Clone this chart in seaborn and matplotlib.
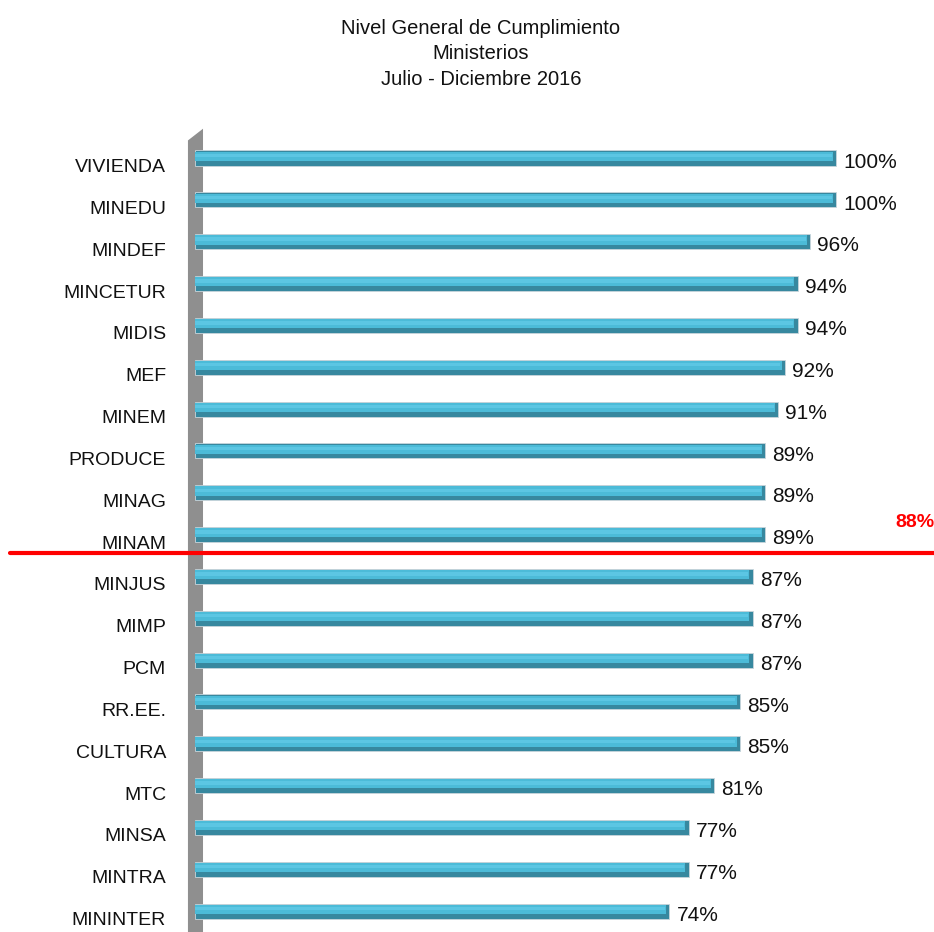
import matplotlib
matplotlib.use("Agg")
import matplotlib.pyplot as plt
import matplotlib.transforms as mtransforms
import seaborn as sns
import numpy as np
import pandas as pd

# Data
ministerios = ["VIVIENDA", "MINEDU", "MINDEF", "MINCETUR", "MIDIS", "MEF", "MINEM",
               "PRODUCE", "MINAG", "MINAM", "MINJUS", "MIMP", "PCM", "RR.EE.",
               "CULTURA", "MTC", "MINSA", "MINTRA", "MININTER"]
cumplimiento = [100, 100, 96, 94, 94, 92, 91, 89, 89, 89, 87, 87, 87, 85, 85, 81, 77, 77, 74]
umbral = 88
titulo = "Nivel General de Cumplimiento\nMinisterios\nJulio - Diciembre 2016"

df = pd.DataFrame({"ministerio": ministerios, "valor": cumplimiento})

sns.set_style("white")
plt.rcParams["font.family"] = ["Liberation Sans", "DejaVu Sans"]

fig = plt.figure(figsize=(9.34, 9.32), dpi=100)
W, H = 934, 932
ax_left, ax_top = 180, 125
ax = fig.add_axes([ax_left / W, 0, (W - ax_left) / W, (H - ax_top) / H])

px_per_unit = 6.41
x0_px = 195
ax.set_xlim(-(x0_px - ax_left) / px_per_unit, (W - x0_px) / px_per_unit)

# gray "wall" behind bars
ax.fill([-1.1, 1.25, 1.25, -1.1], [-0.42, -0.70, 18.6, 18.6], color="#8f8f8f",
        zorder=0, clip_on=False, lw=0)

# bars: dark base, main body, soft highlight
sns.barplot(data=df, y="ministerio", x="valor", orient="h", color="#37889f",
            width=0.36, saturation=1, ax=ax, zorder=2, edgecolor="#c9d6dc",
            linewidth=0.6)
ax.barh(np.arange(len(ministerios)) - 0.04, df["valor"] - 0.5, height=0.22,
        color="#4cbbd8", lw=0, zorder=3)
ax.barh(np.arange(len(ministerios)) - 0.06, df["valor"] - 0.7, height=0.08,
        color="#5cc6e3", lw=0, zorder=4)

row_px = 41.83
ax.set_ylim(18.5, -(158 - ax_top) / row_px)

# value labels
for i, v in enumerate(cumplimiento):
    ax.text(v + 1.1, i + 0.1, f"{v}%", va="center", ha="left", fontsize=15,
            color="#111111")

# threshold line
line_y = 9.43
ax.axhline(line_y, xmin=(10 - ax_left) / (W - ax_left), xmax=1, color="#ff0000",
           lw=3, clip_on=False, zorder=5)
ax.text(1.0, 8.72, f"{umbral}%", transform=ax.get_yaxis_transform(), ha="right",
        va="center", color="#ff0000", fontsize=14, fontweight="bold")

# axis styling
sns.despine(ax=ax, left=True, bottom=True)
ax.set_xticks([])
ax.set_xlabel("")
ax.set_ylabel("")
ax.tick_params(axis="y", length=0, pad=10, labelsize=14)
offset = mtransforms.ScaledTranslation(0, -0.075, fig.dpi_scale_trans)
for lab in ax.get_yticklabels():
    lab.set_transform(lab.get_transform() + offset)
    lab.set_color("#111111")

fig.text(481 / W, 1 - 19 / H, titulo, ha="center", va="top", fontsize=14.5,
         linespacing=1.42, color="#111111")

fig.savefig("out.png", dpi=100)
